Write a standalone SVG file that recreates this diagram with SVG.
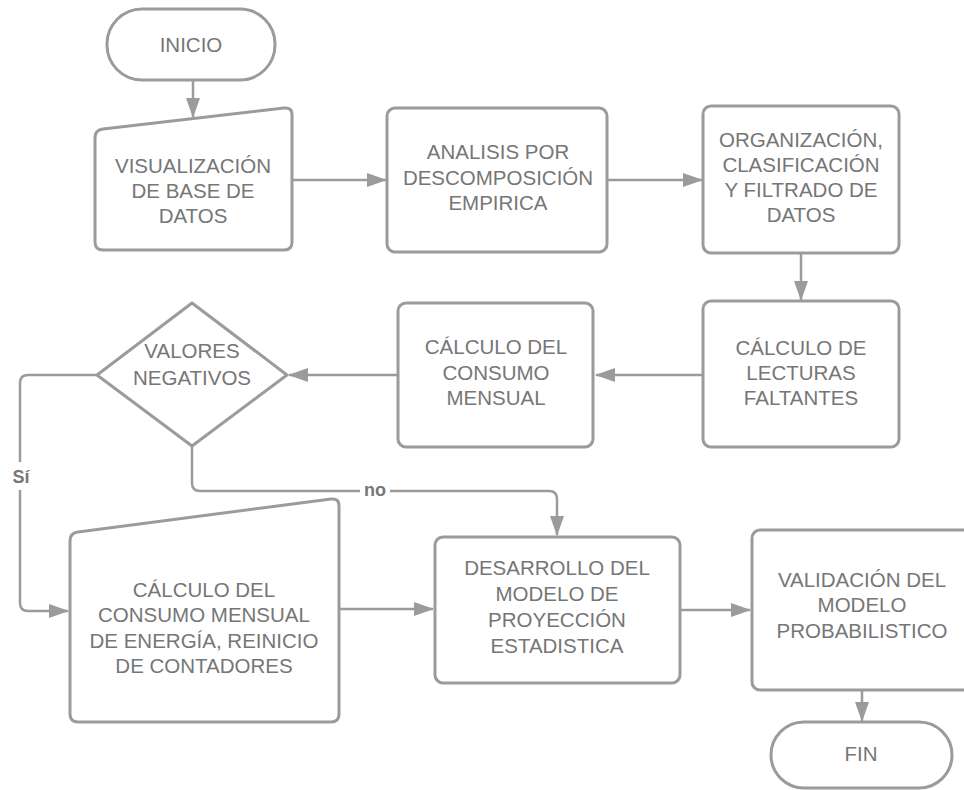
<svg xmlns="http://www.w3.org/2000/svg" width="964" height="790" viewBox="0 0 964 790">
<defs>
<marker id="ah" viewBox="0 0 20 14" refX="19" refY="7" markerWidth="20" markerHeight="14" markerUnits="userSpaceOnUse" orient="auto">
<path d="M0,0 L20,7 L0,14 z" fill="#9b9b9b"/>
</marker>
<style>
.shape{fill:#fff;stroke:#9b9b9b;stroke-width:3;stroke-linejoin:round}
.conn{fill:none;stroke:#9b9b9b;stroke-width:2.5;marker-end:url(#ah)}
.line{fill:none;stroke:#9b9b9b;stroke-width:2.5}
.t{font-family:"Liberation Sans",Arial,sans-serif;font-size:20.5px;fill:#767676;text-anchor:middle}
.lbl{font-family:"Liberation Sans",Arial,sans-serif;font-size:18px;font-weight:bold;fill:#767676;text-anchor:middle}
</style>
</defs>
<rect width="964" height="790" fill="#fff"/>
<g id="connectors">
<path class="conn" d="M193,80 L193,117"/>
<path class="conn" d="M292,180 L386,180"/>
<path class="conn" d="M607,180 L702,180"/>
<path class="conn" d="M801,253 L801,300"/>
<path class="conn" d="M703,375 L596,375"/>
<path class="conn" d="M398,375 L289,375"/>
<path class="conn" d="M97,375 L28,375 Q20,375 20,383 L20,603 Q20,611 28,611 L68,611"/>
<path class="conn" d="M192,446 L192,483 Q192,491 200,491 L549,491 Q557,491 557,499 L557,535"/>
<path class="conn" d="M339,609 L433,609"/>
<path class="conn" d="M680,610 L750,610"/>
<path class="conn" d="M862,690 L862,721"/>
<rect x="10" y="462" width="24" height="28" fill="#fff"/>
<text class="lbl" x="21" y="483">Sí</text>
<rect x="360" y="480" width="30" height="22" fill="#fff"/>
<text class="lbl" x="375" y="496">no</text>
</g>
<g id="inicio">
<rect class="shape" x="107" y="9" width="168" height="71" rx="35"/>
<text class="t" x="191" y="52">INICIO</text>
</g>
<g id="visualizacion">
<path class="shape" d="M95,138 Q95,130 103,129 L284,108 Q292,107 292,115 L292,242 Q292,250 284,250 L103,250 Q95,250 95,242 Z"/>
<text class="t" x="193" y="173">VISUALIZACIÓN</text>
<text class="t" x="193" y="198">DE BASE DE</text>
<text class="t" x="193" y="223">DATOS</text>
</g>
<g id="analisis">
<rect class="shape" x="387" y="108" width="220" height="144" rx="8"/>
<text class="t" x="498" y="159">ANALISIS POR</text>
<text class="t" x="498" y="185">DESCOMPOSICIÓN</text>
<text class="t" x="498" y="210">EMPIRICA</text>
</g>
<g id="organizacion">
<rect class="shape" x="703" y="106" width="196" height="147" rx="8"/>
<text class="t" x="801" y="147">ORGANIZACIÓN,</text>
<text class="t" x="801" y="172">CLASIFICACIÓN</text>
<text class="t" x="801" y="197">Y FILTRADO DE</text>
<text class="t" x="801" y="222">DATOS</text>
</g>
<g id="lecturas">
<rect class="shape" x="703" y="301" width="196" height="146" rx="8"/>
<text class="t" x="801" y="355">CÁLCULO DE</text>
<text class="t" x="801" y="380">LECTURAS</text>
<text class="t" x="801" y="405">FALTANTES</text>
</g>
<g id="consumo">
<rect class="shape" x="398" y="303" width="195" height="144" rx="8"/>
<text class="t" x="496" y="354">CÁLCULO DEL</text>
<text class="t" x="496" y="380">CONSUMO</text>
<text class="t" x="496" y="405">MENSUAL</text>
</g>
<g id="decision">
<path class="shape" d="M192,303 L287,375 L192,446 L97,375 Z"/>
<text class="t" x="192" y="358">VALORES</text>
<text class="t" x="192" y="385">NEGATIVOS</text>
</g>
<g id="energia">
<path class="shape" d="M70,541 Q70,533 78,532 L331,499 Q339,498 339,506 L339,714 Q339,722 331,722 L78,722 Q70,722 70,714 Z"/>
<text class="t" x="204" y="597">CÁLCULO DEL</text>
<text class="t" x="204" y="622">CONSUMO MENSUAL</text>
<text class="t" x="204" y="648">DE ENERGÍA, REINICIO</text>
<text class="t" x="204" y="673">DE CONTADORES</text>
</g>
<g id="desarrollo">
<rect class="shape" x="435" y="537" width="245" height="146" rx="8"/>
<text class="t" x="557" y="575">DESARROLLO DEL</text>
<text class="t" x="557" y="601">MODELO DE</text>
<text class="t" x="557" y="627">PROYECCIÓN</text>
<text class="t" x="557" y="653">ESTADISTICA</text>
</g>
<g id="validacion">
<rect class="shape" x="752" y="530" width="222" height="160" rx="8"/>
<text class="t" x="862" y="587">VALIDACIÓN DEL</text>
<text class="t" x="862" y="612">MODELO</text>
<text class="t" x="862" y="638">PROBABILISTICO</text>
</g>
<g id="fin">
<rect class="shape" x="771" y="722" width="181" height="66" rx="33"/>
<text class="t" x="861" y="761">FIN</text>
</g>
</svg>
